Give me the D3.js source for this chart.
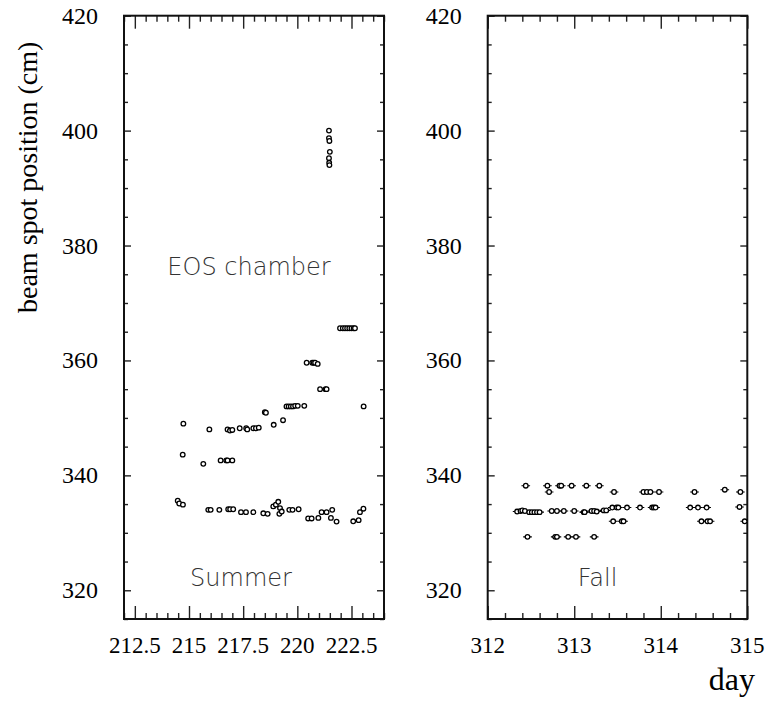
<!DOCTYPE html>
<html><head><meta charset="utf-8">
<script src="https://cdn.jsdelivr.net/npm/d3@7"></script>
<style>body{margin:0;background:#fff}svg{display:block}</style>
</head><body>
<svg id="c" width="767" height="707"></svg>
<script>
// Summer: [day, beam spot position (cm)]
const summerDays = [221.46,221.46,221.48,221.5,221.46,221.47,221.48,
 214.74,215.94,216.78,216.89,217.0,217.34,217.64,217.69,217.97,218.09,218.22,
 218.5,218.55,218.91,219.34,219.5,219.6,219.7,219.8,219.9,220.02,220.32,
 220.43,220.69,220.76,220.82,220.94,221.05,221.3,221.35,
 221.97,222.1,222.2,222.3,222.4,222.5,222.6,222.66,223.06,
 214.71,215.66,216.46,216.72,216.78,217.0,
 214.48,214.55,214.72,215.89,216.0,216.4,216.81,216.9,217.04,217.4,217.63,217.97,
 218.43,218.63,218.89,219.01,219.12,219.2,219.17,219.28,219.63,219.78,220.06,
 220.5,220.66,220.97,221.12,221.35,221.61,221.55,221.81,222.58,222.83,222.89,223.05];
const summerPos = [400.0,398.7,398.2,396.3,395.2,394.4,394.0,
 349.0,348.0,348.0,347.8,347.9,348.2,348.2,348.0,348.2,348.2,348.3,
 351.0,350.9,348.8,349.6,352.0,352.0,352.0,352.0,352.1,352.1,352.1,
 359.6,359.6,359.6,359.6,359.4,355.0,355.0,355.0,
 365.6,365.6,365.6,365.6,365.6,365.6,365.6,365.6,352.0,
 343.6,342.0,342.6,342.6,342.6,342.6,
 335.6,335.1,334.9,334.0,334.0,334.0,334.1,334.1,334.1,333.6,333.6,333.6,
 333.4,333.3,334.6,334.9,335.4,334.3,333.3,333.7,334.0,334.0,334.1,
 332.5,332.5,332.6,333.6,333.6,334.0,332.6,331.95,332.0,332.2,333.6,334.2];

// Fall: [day, beam spot position (cm)], with horizontal error (days)
const fallDays = [312.44,312.69,312.83,312.85,312.97,313.14,313.29,
 312.71,313.46,313.8,313.84,313.88,313.98,314.39,314.92,314.74,
 312.34,312.38,312.4,312.43,312.48,312.51,312.54,312.57,312.6,312.74,312.8,312.88,
 313.0,313.11,313.12,313.2,313.23,313.26,313.34,313.37,
 313.44,313.49,313.51,313.61,313.76,313.9,313.92,313.94,314.34,314.43,314.53,314.91,
 313.45,313.55,313.57,314.47,314.54,314.57,314.97,
 312.46,312.78,312.8,312.93,313.02,313.23];
const fallPos = [338.2,338.2,338.2,338.2,338.2,338.2,338.2,
 337.1,337.1,337.1,337.1,337.1,337.1,337.1,337.1,337.5,
 333.7,333.8,333.9,333.8,333.6,333.6,333.6,333.6,333.6,333.8,333.8,333.8,
 333.8,333.6,333.6,333.8,333.8,333.7,333.9,333.9,
 334.4,334.4,334.4,334.4,334.4,334.4,334.4,334.4,334.4,334.4,334.4,334.5,
 332.0,332.0,332.0,332.0,332.0,332.0,332.0,
 329.3,329.3,329.3,329.3,329.3,329.3];
const fallErr = 0.05;

const yTicks = [320,340,360,380,400,420];
const summerTicks = [212.5,215,217.5,220,222.5];
const summerTickLabels = ["212.5","215","217.5","220","222.5"];
const fallTicks = [312,313,314,315];
const fallTickLabels = ["312","313","314","315"];

const svg = d3.select("#c");
const yTop = 15.7, yBottom = 619;
const y = d3.scaleLinear().domain([315,420]).range([yBottom, yTop]);
const serif = "'Liberation Serif', 'Times New Roman', serif";

function panel(x0, x1, domain, majors, majorLabels, minorStep, days, pos, err, label, labelX) {
  const x = d3.scaleLinear().domain(domain).range([x0, x1]);
  const g = svg.append("g");
  const clipId = "clip" + Math.round(x0);
  svg.append("clipPath").attr("id", clipId).append("rect")
    .attr("x", x0).attr("y", yTop).attr("width", x1 - x0).attr("height", yBottom - yTop);

  const minors = d3.range(domain[0], domain[1] + 1e-9, minorStep)
    .filter(v => !majors.some(m => Math.abs(m - v) < 1e-6));
  const tickCol = "#222";
  const xAxB = d3.axisBottom(x).tickValues(majors).tickSize(-13).tickFormat(() => "");
  const xAxBm = d3.axisBottom(x).tickValues(minors).tickSize(-6).tickFormat(() => "");
  const xAxT = d3.axisTop(x).tickValues(majors).tickSize(-13).tickFormat(() => "");
  const xAxTm = d3.axisTop(x).tickValues(minors).tickSize(-6).tickFormat(() => "");
  [[xAxB, yBottom],[xAxBm, yBottom],[xAxT, yTop],[xAxTm, yTop]].forEach(([ax, ty]) => {
    const a = g.append("g").attr("transform", `translate(0,${ty})`).call(ax);
    a.select(".domain").remove();
    a.selectAll("line").attr("stroke", tickCol).attr("stroke-width", 1.4);
  });
  const yMinors = d3.range(315, 420.001, 5).filter(v => !yTicks.includes(v));
  [[d3.axisLeft, x0, -7, yTicks],[d3.axisLeft, x0, -4, yMinors],
   [d3.axisRight, x1, -7, yTicks],[d3.axisRight, x1, -4, yMinors]].forEach(([f, tx, s, tv]) => {
    const a = g.append("g").attr("transform", `translate(${tx},0)`)
      .call(f(y).tickValues(tv).tickSize(s).tickFormat(() => ""));
    a.select(".domain").remove();
    a.selectAll("line").attr("stroke", tickCol).attr("stroke-width", 1.4);
  });
  g.selectAll(".yl").data(yTicks).enter().append("text")
    .attr("x", x0 - 26).attr("y", d => y(d) + 8)
    .attr("text-anchor", "end").attr("font-family", serif)
    .attr("font-size", 24).text(d => d);
  g.selectAll(".xl").data(majors).enter().append("text")
    .attr("x", d => x(d)).attr("y", 653)
    .attr("text-anchor", "middle").attr("font-family", serif)
    .attr("font-size", 23).text((d, i) => majorLabels[i]);
  g.append("rect").attr("x", x0).attr("y", yTop).attr("width", x1 - x0).attr("height", yBottom - yTop)
    .attr("fill", "none").attr("stroke", "#111").attr("stroke-width", 2);

  const pts = days.map((d, i) => [d, pos[i]]);
  const dg = svg.append("g").attr("clip-path", `url(#${clipId})`);
  if (err) {
    dg.selectAll("line.e").data(pts).enter().append("line")
      .attr("x1", d => x(d[0] - err)).attr("x2", d => x(d[0] + err))
      .attr("y1", d => y(d[1])).attr("y2", d => y(d[1]))
      .attr("stroke", "#000").attr("stroke-width", 1.1);
  }
  dg.selectAll("circle").data(pts).enter().append("circle")
    .attr("cx", d => x(d[0])).attr("cy", d => y(d[1])).attr("r", 2.3)
    .attr("fill", "#fff").attr("stroke", "#000").attr("stroke-width", 1.3);

  svg.append("text").attr("x", labelX).attr("y", 586).attr("text-anchor", "middle")
    .attr("font-family", "DejaVu Sans, sans-serif").attr("font-weight", 200)
    .attr("font-size", 24).attr("fill", "#333").text(label);
  return x;
}

panel(124, 384, [212, 224], summerTicks, summerTickLabels, 0.5, summerDays, summerPos, 0, "Summer", 241);
panel(487.7, 747.3, [312, 315], fallTicks, fallTickLabels, 0.2, fallDays, fallPos, fallErr, "Fall", 597.5);

svg.append("text").attr("x", 249).attr("y", 275).attr("text-anchor", "middle")
  .attr("font-family", "DejaVu Sans, sans-serif").attr("font-weight", 200)
  .attr("font-size", 24).attr("fill", "#333").text("EOS chamber");

svg.append("text").attr("transform", "translate(37,313) rotate(-90)")
  .attr("text-anchor", "start").attr("font-family", serif)
  .attr("font-size", 28).text("beam spot position (cm)");
svg.append("text").attr("x", 755).attr("y", 690).attr("text-anchor", "end")
  .attr("font-family", serif)
  .attr("font-size", 32).text("day");
</script>
</body></html>
